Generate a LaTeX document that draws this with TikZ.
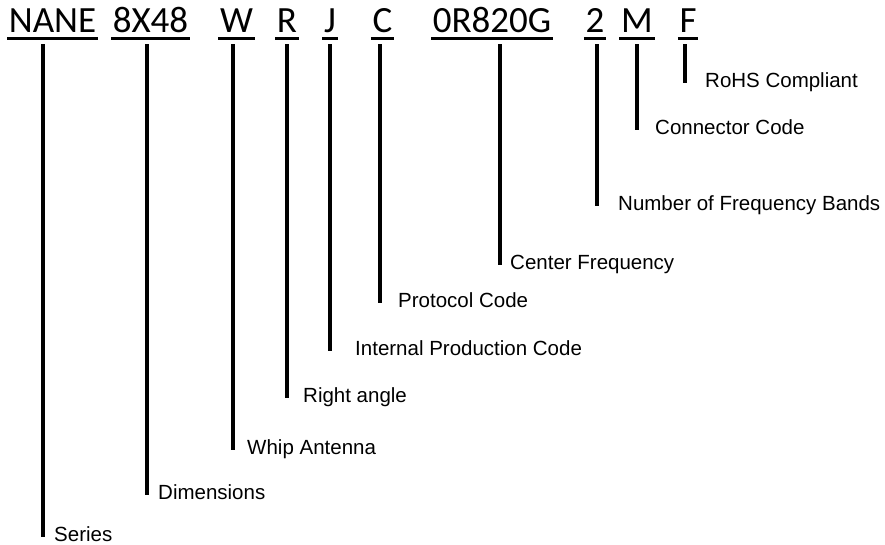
\documentclass[tikz,border=0pt]{standalone}
\usepackage{fontspec}
\setmainfont{Liberation Sans}
\newfontfamily\partfont{Carlito}
\usetikzlibrary{calc}
\begin{document}
\begin{tikzpicture}[x=1pt,y=-1pt,
  part/.style={font=\partfont\fontsize{37}{40}\selectfont, inner xsep=1.5pt, inner ysep=0pt, text depth=0pt, anchor=base},
  lbl/.style={font=\fontsize{20.5}{24}\selectfont, inner sep=0pt, anchor=base west},
  uline/.style={line width=3pt},
  conn/.style={line width=3.6pt}]
\useasboundingbox (0,0) rectangle (885,544);
% parts
\node[part] (nane) at (52.5,32) {NANE};
\node[part] (dim) at (150.5,32) {8X48};
\node[part] (whip) at (236.5,32) {W};
\node[part] (ra) at (287,32) {R};
\node[part] (ipc) at (330,32) {J};
\node[part] (proto) at (382.5,32) {C};
\node[part] (cf) at (492,32) {0R820G};
\node[part] (nb) at (595,32) {2};
\node[part] (cc) at (637,32) {M};
\node[part] (rohs) at (688,32) {F};
\foreach \p in {nane,dim,whip,ra,ipc,proto,cf,nb,cc,rohs}
  \draw[uline] ([yshift=-6.5pt]\p.south west) -- ([yshift=-6.5pt]\p.south east);
% labels
\node[lbl] (lseries) at (54,541) {Series};
\node[lbl] (ldim) at (158,499) {Dimensions};
\node[lbl] (lwhip) at (247,454) {Whip Antenna};
\node[lbl] (lra) at (303,402) {Right angle};
\node[lbl] (lipc) at (355,355) {Internal Production Code};
\node[lbl] (lproto) at (398,307) {Protocol Code};
\node[lbl] (lcf) at (510,269) {Center Frequency};
\node[lbl] (lnb) at (618,210) {Number of Frequency Bands};
\node[lbl] (lcc) at (655,134) {Connector Code};
\node[lbl] (lrohs) at (705,87) {RoHS Compliant};
% connector tops
\coordinate (t1) at ($(nane.south)+(-9.5,12)$);
\coordinate (t2) at ($(dim.south)+(-3.5,12)$);
\coordinate (t3) at ($(whip.south)+(-3.5,12)$);
\coordinate (t4) at ($(ra.south)+(0,12)$);
\coordinate (t5) at ($(ipc.south)+(0,12)$);
\coordinate (t6) at ($(proto.south)+(-2.5,12)$);
\coordinate (t7) at ($(cf.south)+(8,12)$);
\coordinate (t8) at ($(nb.south)+(2,12)$);
\coordinate (t9) at ($(cc.south)+(0,12)$);
\coordinate (t10) at ($(rohs.south)+(-3,12)$);
\foreach \t/\l in {t1/lseries,t2/ldim,t3/lwhip,t4/lra,t5/lipc,t6/lproto,t7/lcf,t8/lnb,t9/lcc,t10/lrohs}
  \draw[conn] (\t) -- ($(\t |- \l.base)+(0,-4)$);
\end{tikzpicture}
\end{document}
